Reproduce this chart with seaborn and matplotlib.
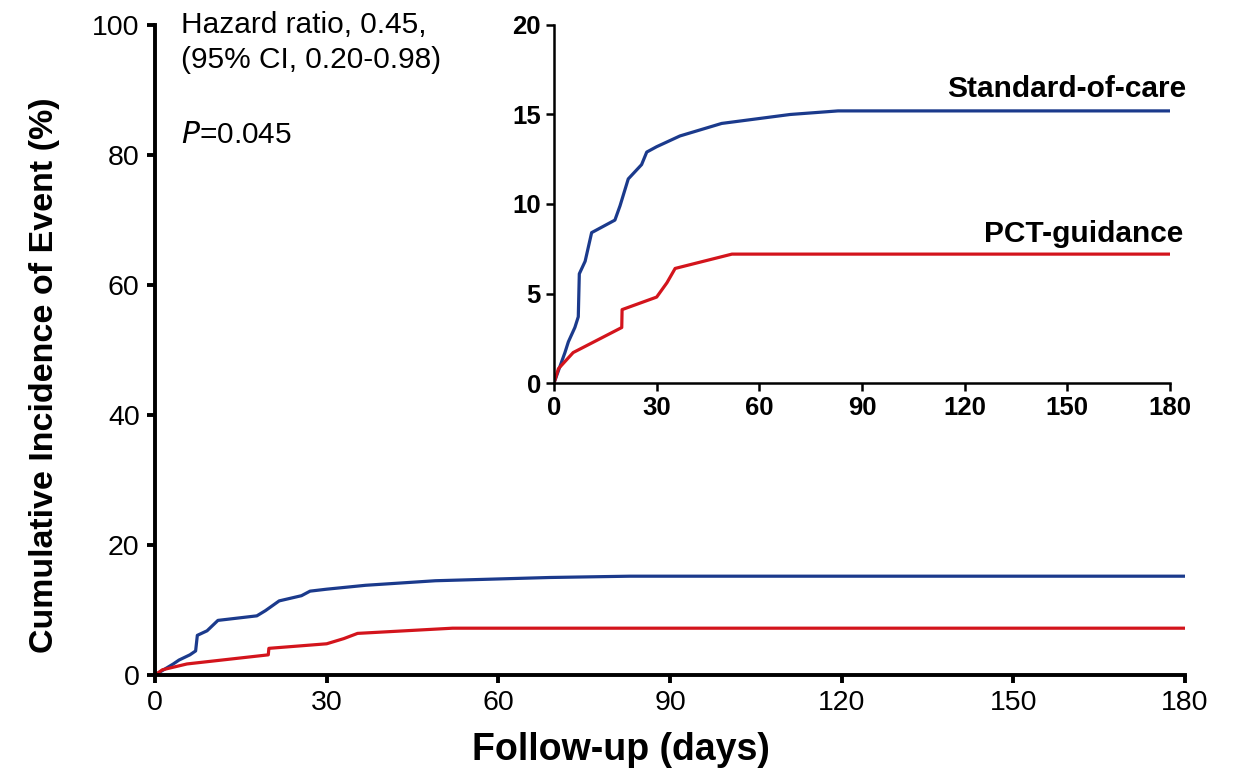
import numpy as np
import pandas as pd
import matplotlib
matplotlib.use("Agg")
import matplotlib.pyplot as plt
import matplotlib.transforms as mtransforms
import seaborn as sns

# ── Data ────────────────────────────────────────────────────────────────────
soc_days = [0, 3.2, 4.2, 6.1, 7.1, 7.4, 9.1, 11.0, 17.8, 19.3, 21.7, 25.6, 27.1,
            30, 36.8, 49, 69, 83, 180]
soc_pct = [0, 1.7, 2.3, 3.1, 3.7, 6.1, 6.8, 8.4, 9.1, 9.9, 11.4, 12.2, 12.9,
           13.2, 13.8, 14.5, 15.0, 15.2, 15.2]

pct_days = [0, 1.3, 5.6, 19.8, 19.9, 30, 33, 35.4, 52, 180]
pct_pct = [0, 0.8, 1.7, 3.1, 4.1, 4.8, 5.6, 6.4, 7.2, 7.2]

group_names = ["Standard-of-care", "PCT-guidance"]
group_colors = ["#1B3A8C", "#D3141C"]

main_yticks = [0, 20, 40, 60, 80, 100]
inset_yticks = [0, 5, 10, 15, 20]
xticks = [0, 30, 60, 90, 120, 150, 180]

stats_lines = ["Hazard ratio, 0.45,", "(95% CI, 0.20-0.98)", r"$\it{P}$=0.045"]

df = pd.concat([
    pd.DataFrame({"day": soc_days, "pct": soc_pct, "group": group_names[0]}),
    pd.DataFrame({"day": pct_days, "pct": pct_pct, "group": group_names[1]}),
], ignore_index=True)

sns.set_style("ticks")
plt.rcParams["font.family"] = ["Liberation Sans", "DejaVu Sans"]
plt.rcParams["text.color"] = "black"
plt.rcParams["axes.labelcolor"] = "black"
palette = dict(zip(group_names, group_colors))


def style_axes(ax, yticks, fs, lw, weight="normal"):
    sns.despine(ax=ax)
    for side in ["left", "bottom"]:
        ax.spines[side].set_linewidth(lw)
        ax.spines[side].set_color("black")
    ax.tick_params(width=lw, length=6, direction="out", labelsize=fs, colors="black")
    ax.set_xticks(xticks)
    ax.set_yticks(yticks)
    ax.set_xlim(0, 180)
    ax.set_ylim(yticks[0], yticks[-1])
    ax.set_xlabel("")
    ax.set_ylabel("")
    ax.set_facecolor("none")
    for lab in ax.get_xticklabels() + ax.get_yticklabels():
        lab.set_fontweight(weight)


fig = plt.figure(figsize=(12.33, 7.78), dpi=100)
ax = fig.add_axes([0.1257, 0.1324, 0.8354, 0.8355])
sns.lineplot(data=df, x="day", y="pct", hue="group", palette=palette,
             sort=False, estimator=None, linewidth=2.3, legend=False, ax=ax)
style_axes(ax, main_yticks, 20.5, 2.8)
ax.tick_params(pad=5)
ax.set_xlabel("Follow-up (days)", fontsize=27, fontweight="bold", color="black")
ax.xaxis.set_label_coords(0.452, -0.088)
ax.set_ylabel("Cumulative Incidence of Event (%)", fontsize=24.5, fontweight="bold",
              color="black")
ax.yaxis.set_label_coords(-0.092, 0.4615)

# stats annotation (one text per line, baselines)
for txt, yb in zip(stats_lines, [0.988, 0.934, 0.818]):
    ax.text(0.025, yb, txt, transform=ax.transAxes, fontsize=21.5,
            va="baseline", ha="left")

# inset zoom
axin = fig.add_axes([0.4493, 0.5077, 0.4996, 0.4602])
sns.lineplot(data=df, x="day", y="pct", hue="group", palette=palette,
             sort=False, estimator=None, linewidth=2.3, legend=False, ax=axin)
style_axes(axin, inset_yticks, 18.5, 1.8, weight="bold")
blend = mtransforms.blended_transform_factory(axin.transAxes, axin.transData)
axin.text(1.027, 16.0, group_names[0], transform=blend, fontsize=21.5,
          fontweight="bold", ha="right", va="baseline")
axin.text(1.022, 7.9, group_names[1], transform=blend, fontsize=21.5,
          fontweight="bold", ha="right", va="baseline")

fig.savefig("out.png", dpi=100)
